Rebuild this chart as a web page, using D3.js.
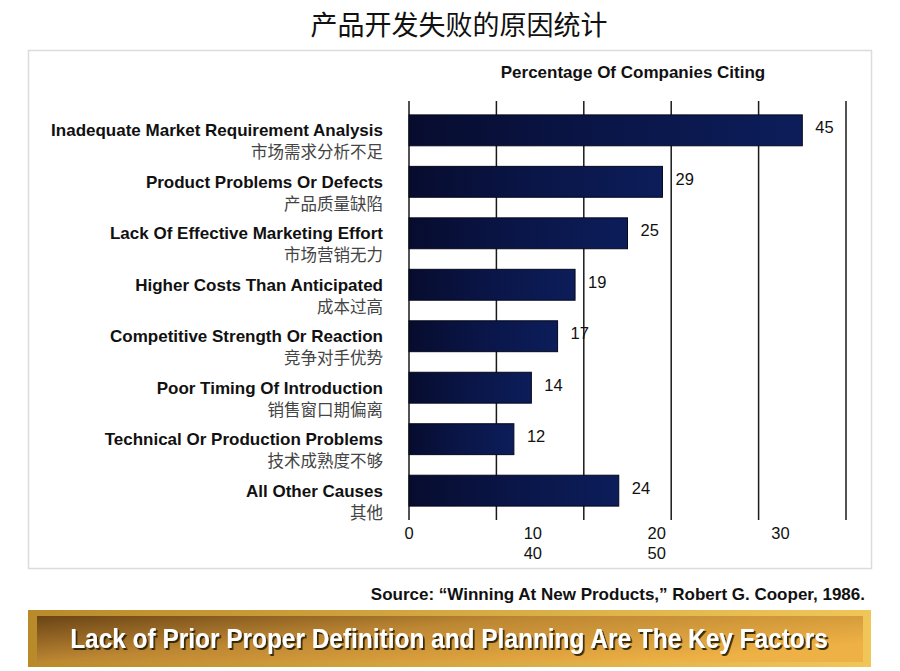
<!DOCTYPE html>
<html>
<head>
<meta charset="utf-8">
<script src="https://cdn.jsdelivr.net/npm/d3@7"></script>
<style>
  body { margin: 0; background: #fff; }
  svg text { font-family: "Liberation Sans", Arial, sans-serif; }
</style>
</head>
<body>
<div id="ChartArea"></div>
<script>
// data
var causesEn = ["Inadequate Market Requirement Analysis", "Product Problems Or Defects",
  "Lack Of Effective Marketing Effort", "Higher Costs Than Anticipated",
  "Competitive Strength Or Reaction", "Poor Timing Of Introduction",
  "Technical Or Production Problems", "All Other Causes"];
var causesZh = ["市场需求分析不足", "产品质量缺陷", "市场营销无力", "成本过高",
  "竞争对手优势", "销售窗口期偏离", "技术成熟度不够", "其他"];
var percents = [45, 29, 25, 19, 17, 14, 12, 24];
var gridValues = [0, 10, 20, 30, 40, 50];
var tickLabels = ["0", "10", "20", "30", "40", "50"];

var title = "产品开发失败的原因统计";
var axisTitle = "Percentage Of Companies Citing";
var source = "Source: \u201cWinning At New Products,\u201d Robert G. Cooper, 1986.";
var banner = "Lack of Prior Proper Definition and Planning Are The Key Factors";

var W = 900, H = 671;
var svg = d3.select("#ChartArea").append("svg")
    .attr("width", W).attr("height", H);

var defs = svg.append("defs");

// bar gradient (horizontal, dark navy)
var bg = defs.append("linearGradient").attr("id", "barGradient")
  .attr("x1", "0%").attr("y1", "0%").attr("x2", "100%").attr("y2", "0%");
bg.append("stop").attr("offset", "0%").attr("stop-color", "#070c2e");
bg.append("stop").attr("offset", "45%").attr("stop-color", "#0a1546");
bg.append("stop").attr("offset", "100%").attr("stop-color", "#0c1d5a");

// banner gradients
var gOuter = defs.append("linearGradient").attr("id", "bannerOuter")
  .attr("x1", "0%").attr("y1", "0%").attr("x2", "100%").attr("y2", "0%");
gOuter.append("stop").attr("offset", "0%").attr("stop-color", "#b98a2a");
gOuter.append("stop").attr("offset", "100%").attr("stop-color", "#f0c659");
var gInner = defs.append("linearGradient").attr("id", "bannerInner")
  .attr("x1", "0%").attr("y1", "0%").attr("x2", "100%").attr("y2", "60%");
gInner.append("stop").attr("offset", "0%").attr("stop-color", "#6a4416");
gInner.append("stop").attr("offset", "45%").attr("stop-color", "#bd8733");
gInner.append("stop").attr("offset", "100%").attr("stop-color", "#eeb145");

var shadow = defs.append("filter").attr("id", "txtShadow")
  .attr("x", "-5%").attr("y", "-30%").attr("width", "110%").attr("height", "160%");
shadow.append("feDropShadow").attr("dx", 2).attr("dy", 2)
  .attr("stdDeviation", 0.6).attr("flood-color", "#2a1a05").attr("flood-opacity", 0.9);

// title
svg.append("text")
  .attr("x", 459).attr("y", 35)
  .attr("text-anchor", "middle")
  .style("font-family", "'Noto Sans CJK SC', sans-serif")
  .style("font-size", "27px")
  .attr("fill", "#111")
  .text(title);

// panel
svg.append("rect")
  .attr("x", 28.5).attr("y", 50.5).attr("width", 843).attr("height", 518)
  .attr("fill", "#fff").attr("stroke", "#dcdcdc").attr("stroke-width", 1.5);

// scales
var x = d3.scaleLinear().domain([0, 50]).range([409, 846]);
var y = d3.scaleBand().domain(causesEn).range([101, 520])
  .paddingInner(0.4).paddingOuter(0.27);

var plot = svg.append("g");

// axis header
plot.append("text")
  .attr("x", 633).attr("y", 78)
  .attr("text-anchor", "middle")
  .style("font-size", "17px").style("font-weight", "bold")
  .attr("fill", "#111")
  .text(axisTitle);

// vertical grid lines
plot.selectAll(".grid")
  .data(gridValues)
  .enter().append("line")
  .attr("class", "grid")
  .attr("x1", function(d) { return x(d); })
  .attr("x2", function(d) { return x(d); })
  .attr("y1", y.range()[0]).attr("y2", y.range()[1])
  .attr("stroke", "#1a1a1a").attr("stroke-width", 1.5);

// bars
plot.selectAll(".bar")
  .data(percents)
  .enter().append("rect")
  .attr("class", "bar")
  .attr("x", x(0))
  .attr("y", function(d, i) { return y(causesEn[i]); })
  .attr("width", function(d) { return x(d) - x(0); })
  .attr("height", y.bandwidth())
  .attr("fill", "url(#barGradient)")
  .attr("stroke", "#05081c").attr("stroke-width", 1);

// value labels
plot.selectAll(".bar-label")
  .data(percents)
  .enter().append("text")
  .attr("class", "bar-label")
  .attr("x", function(d) { return x(d) + 13; })
  .attr("y", function(d, i) { return y(causesEn[i]) + y.bandwidth() / 2 + 3; })
  .style("font-size", "16.5px")
  .attr("fill", "#111")
  .text(function(d) { return d; });

// category labels (English + Chinese)
plot.selectAll(".cat-en")
  .data(causesEn)
  .enter().append("text")
  .attr("class", "cat-en")
  .attr("x", 383)
  .attr("y", function(d) { return y(d) + y.bandwidth() / 2 + 6; })
  .attr("text-anchor", "end")
  .style("font-size", "17px").style("font-weight", "bold")
  .attr("fill", "#111")
  .text(function(d) { return d; });

plot.selectAll(".cat-zh")
  .data(causesZh)
  .enter().append("text")
  .attr("class", "cat-zh")
  .attr("x", 383)
  .attr("y", function(d, i) { return y(causesEn[i]) + y.bandwidth() / 2 + 28; })
  .attr("text-anchor", "end")
  .style("font-family", "'Noto Sans CJK SC', sans-serif")
  .style("font-size", "16.5px")
  .attr("fill", "#444")
  .text(function(d) { return d; });

// tick labels - wrapped onto two rows as in the original
var labelCol = d3.scaleLinear().domain([0, 3]).range([x(0), x(42.5)]);
plot.selectAll(".tick-label")
  .data(tickLabels)
  .enter().append("text")
  .attr("class", "tick-label")
  .attr("x", function(d, i) { return labelCol(i < 4 ? i : i - 3); })
  .attr("y", function(d, i) { return i < 4 ? 539 : 559; })
  .attr("text-anchor", "middle")
  .style("font-size", "16.5px")
  .attr("fill", "#111")
  .text(function(d) { return d; });

// source
svg.append("text")
  .attr("x", 865).attr("y", 600)
  .attr("text-anchor", "end")
  .style("font-size", "17px").style("font-weight", "bold")
  .attr("fill", "#111")
  .text(source);

// banner
svg.append("rect")
  .attr("x", 28).attr("y", 610).attr("width", 843).attr("height", 57)
  .attr("fill", "url(#bannerOuter)");
svg.append("rect")
  .attr("x", 37).attr("y", 616).attr("width", 826).attr("height", 46)
  .attr("fill", "url(#bannerInner)");
var bannerText = svg.append("text")
  .attr("x", 0).attr("y", 0)
  .attr("text-anchor", "middle")
  .style("font-family", "'Liberation Sans Narrow', 'Liberation Sans', Arial, sans-serif")
  .style("font-size", "28px").style("font-weight", "bold")
  .attr("fill", "#fff")
  .attr("filter", "url(#txtShadow)")
  .text(banner);
// squeeze the line horizontally so it is as wide as in the original (about 758px)
var natural = bannerText.node().getComputedTextLength();
var k = natural > 0 ? Math.min(1, 758 / natural) : 1;
bannerText.attr("transform", "translate(449,648) scale(" + k + ",1)");
</script>
</body>
</html>
